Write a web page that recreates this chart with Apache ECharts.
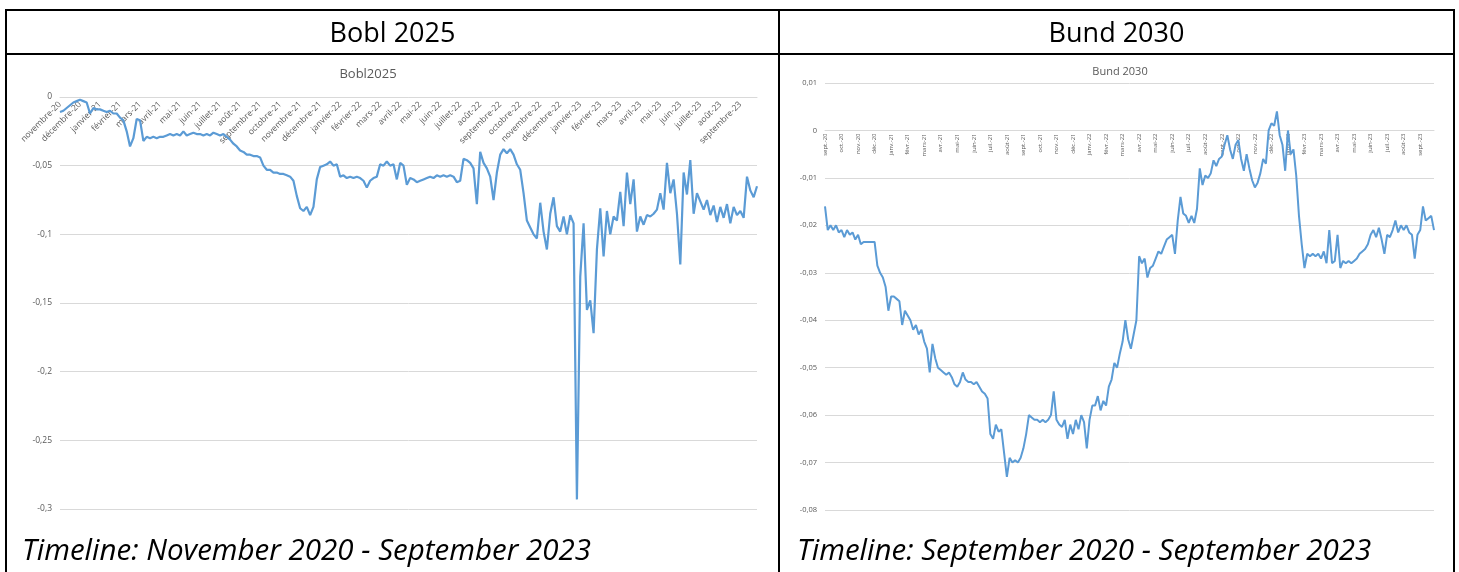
<!DOCTYPE html>
<html>
<head>
<meta charset="utf-8">
<script src="https://cdn.jsdelivr.net/npm/echarts@6/dist/echarts.min.js"></script>
<style>
  html, body { margin: 0; padding: 0; background: #fff; width: 1459px; height: 572px; overflow: hidden; }
  #chart { position: absolute; left: 0; top: 0; width: 1459px; height: 572px; }
  .rule { position: absolute; background: #000; }
  .cell { position: absolute; font-family: 'Open Sans', sans-serif; color: #000; white-space: nowrap; }
  .head { top: 11px; height: 42px; line-height: 42px; font-size: 27px; text-align: center; }
  .foot { top: 530px; font-size: 29.5px; font-style: italic; line-height: 38px; }
</style>
</head>
<body>
<div id="chart"></div>

<!-- table frame -->
<div class="rule" style="left:5px;top:9px;width:1450px;height:2px"></div>
<div class="rule" style="left:5px;top:53px;width:1450px;height:2px"></div>
<div class="rule" style="left:5px;top:9px;width:2px;height:563px"></div>
<div class="rule" style="left:778px;top:9px;width:2px;height:563px"></div>
<div class="rule" style="left:1453px;top:9px;width:2px;height:563px"></div>

<div class="cell head" style="left:7px;width:771px">Bobl 2025</div>
<div class="cell head" style="left:780px;width:673px">Bund 2030</div>
<div class="cell foot" style="left:22px">Timeline: November 2020 - September 2023</div>
<div class="cell foot" style="left:797px">Timeline: September 2020 - September 2023</div>

<script>
// samples per month in both series
const PTS = 6;

const boblMonths = ['novembre-20','décembre-20','janvier-21','février-21','mars-21','avril-21','mai-21','juin-21',
  'juillet-21','août-21','septembre-21','octobre-21','novembre-21','décembre-21','janvier-22','février-22',
  'mars-22','avril-22','mai-22','juin-22','juillet-22','août-22','septembre-22','octobre-22','novembre-22',
  'décembre-22','janvier-23','février-23','mars-23','avril-23','mai-23','juin-23','juillet-23','août-23','septembre-23'];

const bundMonths = ['sept.-20','oct.-20','nov.-20','déc.-20','janv.-21','févr.-21','mars-21','avr.-21','mai-21',
  'juin-21','juil.-21','août-21','sept.-21','oct.-21','nov.-21','déc.-21','janv.-22','févr.-22','mars-22',
  'avr.-22','mai-22','juin-22','juil.-22','août-22','sept.-22','oct.-22','nov.-22','déc.-22','janv.-23',
  'févr.-23','mars-23','avr.-23','mai-23','juin-23','juil.-23','août-23','sept.-23'];

// Bobl 2025, one row per month
const boblValues = [
  -0.011,-0.010,-0.008,-0.006,-0.004,-0.003,
  -0.002,-0.003,-0.004,-0.012,-0.008,-0.009,
  -0.009,-0.010,-0.011,-0.010,-0.012,-0.012,
  -0.015,-0.017,-0.025,-0.036,-0.030,-0.016,
  -0.017,-0.032,-0.029,-0.030,-0.029,-0.030,
  -0.029,-0.029,-0.028,-0.027,-0.028,-0.027,
  -0.028,-0.025,-0.028,-0.027,-0.026,-0.027,
  -0.027,-0.028,-0.027,-0.028,-0.026,-0.027,
  -0.028,-0.027,-0.029,-0.031,-0.034,-0.036,
  -0.039,-0.040,-0.042,-0.042,-0.043,-0.043,
  -0.044,-0.050,-0.053,-0.053,-0.055,-0.055,
  -0.056,-0.056,-0.057,-0.058,-0.061,-0.072,
  -0.081,-0.083,-0.080,-0.086,-0.080,-0.060,
  -0.051,-0.050,-0.049,-0.047,-0.050,-0.049,
  -0.058,-0.057,-0.059,-0.058,-0.059,-0.058,
  -0.059,-0.061,-0.066,-0.061,-0.059,-0.058,
  -0.049,-0.050,-0.047,-0.050,-0.049,-0.060,
  -0.048,-0.050,-0.064,-0.059,-0.060,-0.062,
  -0.061,-0.060,-0.059,-0.058,-0.059,-0.057,
  -0.058,-0.057,-0.058,-0.057,-0.058,-0.062,
  -0.061,-0.045,-0.046,-0.048,-0.052,-0.078,
  -0.040,-0.048,-0.052,-0.058,-0.075,-0.055,
  -0.042,-0.038,-0.041,-0.038,-0.042,-0.049,
  -0.053,-0.070,-0.090,-0.095,-0.100,-0.103,
  -0.077,-0.098,-0.111,-0.085,-0.073,-0.094,
  -0.098,-0.087,-0.100,-0.086,-0.092,-0.293,
  -0.131,-0.092,-0.155,-0.148,-0.172,-0.111,
  -0.081,-0.116,-0.083,-0.100,-0.087,-0.090,
  -0.069,-0.094,-0.055,-0.078,-0.060,-0.098,
  -0.087,-0.093,-0.086,-0.087,-0.085,-0.082,
  -0.070,-0.082,-0.048,-0.070,-0.060,-0.085,
  -0.122,-0.055,-0.071,-0.046,-0.085,-0.070,
  -0.076,-0.082,-0.075,-0.086,-0.079,-0.091,
  -0.080,-0.088,-0.078,-0.092,-0.080,-0.086,
  -0.083,-0.088,-0.058,-0.068,-0.073,-0.065
];

// Bund 2030, one row per month
const bundValues = [
  -0.016,-0.021,-0.020,-0.021,-0.020,-0.0215,
  -0.021,-0.0225,-0.021,-0.022,-0.0215,-0.023,
  -0.022,-0.024,-0.0235,-0.0235,-0.0235,-0.0235,
  -0.0235,-0.0285,-0.030,-0.031,-0.033,-0.038,
  -0.035,-0.035,-0.0355,-0.036,-0.041,-0.038,
  -0.039,-0.040,-0.042,-0.041,-0.043,-0.042,
  -0.0445,-0.046,-0.051,-0.045,-0.048,-0.050,
  -0.0505,-0.051,-0.0515,-0.051,-0.052,-0.0535,
  -0.054,-0.053,-0.051,-0.0525,-0.053,-0.053,
  -0.0535,-0.053,-0.054,-0.055,-0.0555,-0.0565,
  -0.064,-0.065,-0.062,-0.0635,-0.063,-0.068,
  -0.073,-0.069,-0.070,-0.0695,-0.070,-0.069,
  -0.067,-0.064,-0.060,-0.0605,-0.061,-0.061,
  -0.0615,-0.061,-0.0615,-0.061,-0.060,-0.055,
  -0.061,-0.062,-0.0625,-0.061,-0.065,-0.062,
  -0.064,-0.061,-0.063,-0.060,-0.0615,-0.067,
  -0.061,-0.058,-0.058,-0.056,-0.059,-0.057,
  -0.058,-0.054,-0.0525,-0.049,-0.050,-0.047,
  -0.0445,-0.040,-0.044,-0.046,-0.043,-0.040,
  -0.0265,-0.028,-0.027,-0.031,-0.029,-0.0285,
  -0.027,-0.0255,-0.026,-0.0245,-0.023,-0.0225,
  -0.022,-0.026,-0.019,-0.014,-0.0175,-0.018,
  -0.0195,-0.018,-0.0195,-0.0165,-0.008,-0.0115,
  -0.0095,-0.010,-0.009,-0.0063,-0.0075,-0.006,
  -0.0055,-0.003,-0.001,-0.004,-0.006,-0.003,
  -0.002,-0.006,-0.0085,-0.005,-0.008,-0.0105,
  -0.012,-0.011,-0.009,-0.006,-0.007,0.000,
  0.0015,0.001,0.004,-0.001,-0.003,-0.0085,
  0.000,-0.005,-0.004,-0.0095,-0.018,-0.024,
  -0.029,-0.026,-0.0265,-0.026,-0.0265,-0.026,
  -0.027,-0.0255,-0.028,-0.021,-0.028,-0.0275,
  -0.022,-0.029,-0.0275,-0.028,-0.0275,-0.028,
  -0.0275,-0.027,-0.026,-0.0255,-0.025,-0.024,
  -0.022,-0.021,-0.0225,-0.0205,-0.023,-0.026,
  -0.022,-0.0225,-0.021,-0.019,-0.0215,-0.020,
  -0.021,-0.020,-0.0215,-0.022,-0.027,-0.022,
  -0.021,-0.016,-0.019,-0.0185,-0.018,-0.021
];

const LINE = '#5B9BD5';
const GRID = '#d9d9d9';
const TEXT = '#595959';
const FONT = "'Open Sans', sans-serif";

// plot areas and value ranges
const boblGrid = { left: 60, top: 97, width: 697, height: 412 };
const bundGrid = { left: 825, top: 83, width: 609, height: 427 };
const boblRange = { min: -0.3, max: 0, interval: 0.05 };
const bundRange = { min: -0.08, max: 0.01, interval: 0.01 };

const decimalComma = v => String(+(+v).toFixed(3)).replace('.', ',');

// the category axis crosses at zero: lift it from the bottom edge
// by the share of the value range that lies below zero
const zeroLift = (grid, range) => -grid.height * (0 - range.min) / (range.max - range.min);

function xAxisFor(gridIndex, grid, range, values, months, labelOpts) {
  return {
    type: 'category',
    gridIndex: gridIndex,
    position: 'bottom',
    offset: zeroLift(grid, range),
    boundaryGap: false,
    data: values.map((_, i) => i),
    axisLine: { show: true, onZero: false, lineStyle: { color: GRID, width: 1 } },
    axisTick: { show: false },
    splitLine: { show: false },
    axisLabel: Object.assign({
      interval: i => i % PTS === 0,
      formatter: (v, i) => months[Math.floor(i / PTS)],
      color: TEXT,
      fontFamily: FONT
    }, labelOpts)
  };
}

function yAxisFor(gridIndex, range, fontSize) {
  return {
    type: 'value',
    gridIndex: gridIndex,
    min: range.min, max: range.max, interval: range.interval,
    axisLine: { show: false },
    axisTick: { show: false },
    splitLine: { lineStyle: { color: GRID, width: 1 } },
    axisLabel: { formatter: decimalComma, color: TEXT, fontSize: fontSize, fontFamily: FONT, margin: 8 }
  };
}

const chart = echarts.init(document.getElementById('chart'), null, { renderer: 'canvas' });

chart.setOption({
  animation: false,
  backgroundColor: 'transparent',
  grid: [boblGrid, bundGrid],
  xAxis: [
    xAxisFor(0, boblGrid, boblRange, boblValues, boblMonths, { rotate: 45, fontSize: 8.5, margin: 6 }),
    xAxisFor(1, bundGrid, bundRange, bundValues, bundMonths, { rotate: 90, fontSize: 6, margin: 3 })
  ],
  yAxis: [
    yAxisFor(0, boblRange, 8.5),
    yAxisFor(1, bundRange, 7.5)
  ],
  graphic: [
    { type: 'text', x: 368, y: 74, style: { text: 'Bobl2025', fill: TEXT, font: "13px 'Open Sans', sans-serif", align: 'center', verticalAlign: 'middle', textAlign: 'center', textVerticalAlign: 'middle' } },
    { type: 'text', x: 1120, y: 72, style: { text: 'Bund 2030', fill: TEXT, font: "11px 'Open Sans', sans-serif", align: 'center', verticalAlign: 'middle', textAlign: 'center', textVerticalAlign: 'middle' } }
  ],
  series: [
    {
      type: 'line', xAxisIndex: 0, yAxisIndex: 0, data: boblValues,
      showSymbol: false, symbol: 'none', silent: true,
      lineStyle: { color: LINE, width: 2.2 }
    },
    {
      type: 'line', xAxisIndex: 1, yAxisIndex: 1, data: bundValues,
      showSymbol: false, symbol: 'none', silent: true,
      lineStyle: { color: LINE, width: 2 }
    }
  ]
});
</script>
</body>
</html>
